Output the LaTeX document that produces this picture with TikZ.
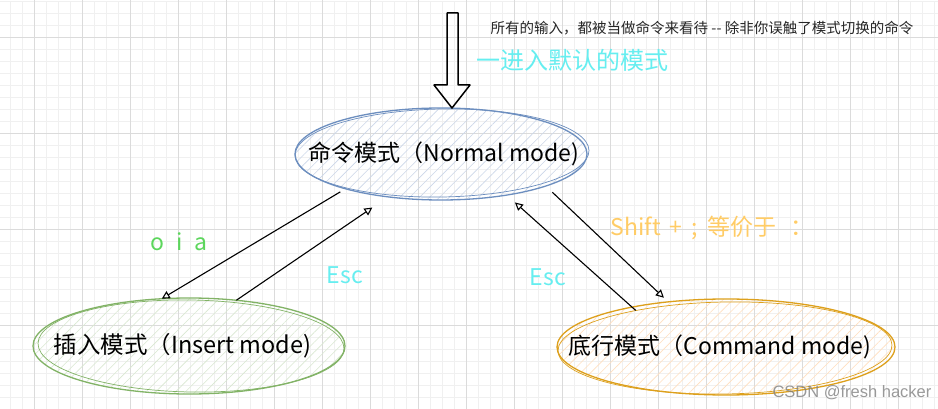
\documentclass[tikz,border=0pt]{standalone}
\usepackage{fontspec}
\setmainfont{Noto Sans CJK SC}
\newfontfamily\wmfont{Liberation Sans}
\usepackage{tikz}
\definecolor{normalblue}{HTML}{6C8EBF}
\definecolor{insertgreen}{HTML}{82B366}
\definecolor{cmdorange}{HTML}{DDA01C}
\definecolor{hintcyan}{HTML}{66EEF0}
\definecolor{keygreen}{HTML}{5CD65C}
\definecolor{keyorange}{HTML}{FFCC66}
\usetikzlibrary{positioning, arrows.meta, patterns.meta, shapes.geometric}
\tikzstyle{arrow} = [line width=1.1pt,-{Triangle[open,length=8pt,width=8pt]}]

\begin{document}
\begin{tikzpicture}[x=1pt,y=-1pt]
                \tikzstyle{every node}=[font=\fontsize{23}{26}\selectfont]
                \tikzstyle{mode} = [ellipse, inner sep=0pt, outer sep=0pt, line width=1.3pt]
                \tikzstyle{normal} = [mode, draw=normalblue, pattern={Lines[angle=45,distance=7pt,line width=0.6pt]}, pattern color=normalblue!35, minimum width=292pt, minimum height=92pt]
                \tikzstyle{insert} = [mode, draw=insertgreen, pattern={Lines[angle=45,distance=7pt,line width=0.6pt]}, pattern color=insertgreen!30, minimum width=312pt, minimum height=96pt]
                \tikzstyle{command} = [mode, draw=cmdorange, pattern={Lines[angle=45,distance=7pt,line width=0.6pt]}, pattern color=orange!25, minimum width=338pt, minimum height=96pt]
                \tikzstyle{note} = [text=black!85, font=\fontsize{14.5}{16}\selectfont]
                \tikzstyle{hint} = [text=hintcyan, font=\fontsize{24}{26}\selectfont]
                \tikzstyle{keys} = [font=\fontsize{23}{26}\selectfont]
                \tikzstyle{esc} = [text=hintcyan, font=\fontsize{23}{26}\selectfont]
                \tikzstyle{gridminor} = [gray!12, line width=0.8pt]
                \tikzstyle{gridmajor} = [gray!28, line width=0.8pt]

                % background and grid
                \useasboundingbox (0,0) rectangle (938,409);
                \fill[white] (0,0) rectangle (938,409);
                \begin{scope}[y=1pt]
                \draw[gridminor, xshift=10.7pt, yshift=-13.3pt] (-12,-420) grid[step=12] (936,12);
                \draw[gridmajor, xshift=34.7pt, yshift=-37pt] (-48,-480) grid[xstep=48,ystep=96] (960,96);
                \end{scope}

                % the three modes
                \node[normal](m1) at (441,154) {\makebox[0pt]{\hspace*{6pt}命令模式（Normal mode)}};
                \node[insert, font=\fontsize{23.5}{26}\selectfont](m2) at (189,346) {\makebox[0pt]{\hspace*{-13pt}插入模式（Insert mode)}};
                \node[command, font=\fontsize{23}{26}\selectfont](m3) at (726,347) {\makebox[0pt]{\hspace*{-12pt}底行模式（Command mode)}};

                % second rough stroke
                \draw[normalblue, line width=0.7pt] (m1.center) ++(1,-1) ellipse [x radius=147, y radius=44, rotate=1];
                \draw[insertgreen, line width=0.7pt] (m2.center) ++(2,0) ellipse [x radius=153, y radius=46, rotate=-1];
                \draw[cmdorange, line width=0.7pt] (m3.center) ++(-1,1) ellipse [x radius=167, y radius=46, rotate=1];

                % entry arrow
                \draw[line width=1.5pt, line join=round] ([xshift=11pt]m1.north) -- ++(18,-23) -- ++(-12,0) -- ++(0,-72) -- ++(-11,0) -- ++(0,72) -- ++(-13,0) -- cycle;

                \draw[arrow, shorten <=6pt] (m1.200) -- (m2.120);
                \draw[arrow, shorten >=19pt] (m2.44) -- (m1.219);
                \draw[arrow, shorten <=9pt, shorten >=6pt] (m1.343) -- (m3.142);
                \draw[arrow, shorten <=-5pt, shorten >=11pt] (m3.157) -- (m1.328);

                % labels
                \node[note](t1) at (702,28) {所有的输入，都被当做命令来看待 -{}- 除非你误触了模式切换的命令};
                \node[hint](t2) at (572,60) {一进入默认的模式};
                \node[keys, text=keygreen](t3) at (179,242) {o\hspace{0.5em}i\hspace{0.5em}a};
                \node[esc](t4) at (345,275) {Esc};
                \node[esc](t5) at (548,277) {Esc};
                \node[keys, text=keyorange](t6) at (712,228) {Shift\hspace{0.4em}+\hspace{0.4em};\hspace{0.4em}等价于\hspace{0.6em}：};
                \node[text=gray, opacity=0.8, font=\wmfont\fontsize{16.5}{18}\selectfont](t7) at (852,393) {CSDN @fresh hacker};
        \end{tikzpicture}
\end{document}
